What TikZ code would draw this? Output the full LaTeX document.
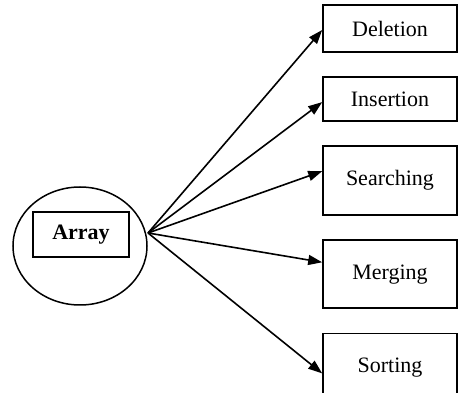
\documentclass[tikz,border=0pt]{standalone}
\usepackage{fontspec}
\setmainfont{Liberation Serif}
\usetikzlibrary{arrows.meta, positioning, shapes.geometric}

\begin{document}
\begin{tikzpicture}[x=1pt, y=-1pt, node distance=23.5pt,
    every node/.style={font=\fontsize{22}{26}\selectfont},
    opbox/.style={rectangle, draw, line width=1.6pt, minimum width=134pt, inner sep=0pt, align=center},
    link/.style={line width=1.6pt, -{Triangle[length=14pt, width=10pt]}}]
        \useasboundingbox (0,0) rectangle (459,393);
        \node (ell) [ellipse, draw, line width=1.5pt, minimum width=134pt, minimum height=118pt] at (80,246) {};
        \node (arr) [rectangle, draw, line width=1.6pt, minimum width=96pt, minimum height=45pt, inner sep=0pt] at (81,234.5) {\bfseries Array};
        \coordinate (src) at (148,233);

        \node (del) [opbox, minimum height=47pt] at (390,28.5) {Deletion};
        \node (ins) [opbox, minimum height=44pt, below=of del] {Insertion};
        \node (srch) [opbox, minimum height=69pt, below=of ins] {Searching};
        \node (mrg) [opbox, minimum height=68pt, below=of srch] {Merging};
        \node (srt) [opbox, minimum height=68pt, below=of mrg] {Sorting};

        \draw [link] (src) -- ([yshift=-1.5pt]del.west);
        \draw [link] (src) -- ([yshift=-3pt]ins.west);
        \draw [link] (src) -- ([yshift=9.5pt]srch.west);
        \draw [link] (src) -- ([yshift=12pt]mrg.west);
        \draw [link] (src) -- ([yshift=-6pt]srt.west);
    \end{tikzpicture}
\end{document}
